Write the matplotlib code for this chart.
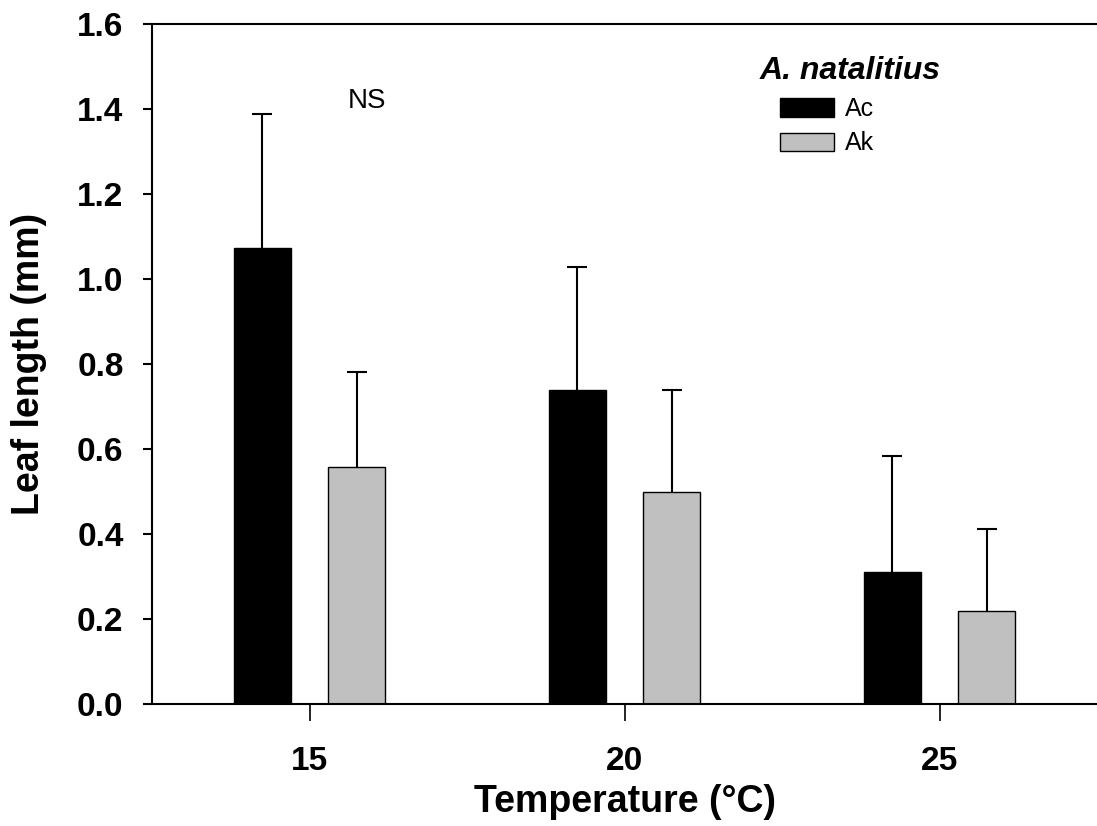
import matplotlib
matplotlib.use("Agg")
import matplotlib.pyplot as plt
from matplotlib.patches import Patch
import numpy as np

# leaf length by growth temperature, means with upper SE bars
temps = [15, 20, 25]
ac_mean = [1.074, 0.739, 0.311]
ac_err = [0.315, 0.290, 0.272]
ak_mean = [0.558, 0.498, 0.218]
ak_err = [0.224, 0.242, 0.194]

plt.rcParams['font.family'] = ['Liberation Sans', 'DejaVu Sans']

BAR_W = 0.9
OFFSET = 0.75
GREY = '#c0c0c0'

fig = plt.figure(figsize=(10.97, 8.26), dpi=100)
ax = fig.add_axes([152 / 1097, 122 / 826, 945 / 1097, 680 / 826])

x = np.array(temps, dtype=float)
# error bars sit behind the bars so only the upper half shows
err_kw = dict(fmt='none', ecolor='black', elinewidth=1.5, capsize=7,
              capthick=1.5, zorder=1)
ax.errorbar(x - OFFSET, ac_mean, yerr=ac_err, **err_kw)
ax.errorbar(x + OFFSET, ak_mean, yerr=ak_err, **err_kw)
ax.bar(x - OFFSET, ac_mean, BAR_W, color='black', edgecolor='black',
       linewidth=1, zorder=2)
ax.bar(x + OFFSET, ak_mean, BAR_W, color=GREY, edgecolor='black',
       linewidth=1, zorder=2)

ax.set_xlim(12.5, 27.5)
ax.set_ylim(0, 1.6)
ax.set_xticks(temps)
yt = np.arange(0, 1.61, 0.2)
ax.set_yticks(yt)
ax.set_yticklabels([f'{v:.1f}' for v in yt])

ax.spines['right'].set_visible(False)
for s in ['left', 'bottom', 'top']:
    ax.spines[s].set_linewidth(1.5)

ax.tick_params(axis='y', direction='out', length=6.5, width=1.5, pad=14,
               labelsize=24)
ax.tick_params(axis='x', direction='out', length=12, width=1.2, pad=18,
               labelsize=24)
for lab in ax.get_xticklabels() + ax.get_yticklabels():
    lab.set_fontweight('bold')

ax.set_xlabel('Temperature (°C)', fontsize=27, fontweight='bold')
ax.set_ylabel('Leaf length (mm)', fontsize=27, fontweight='bold')
ax.xaxis.set_label_coords(0.5, -0.117)
ax.yaxis.set_label_coords(-0.111, 0.5)

ax.text(15.91, 1.42, 'NS', fontsize=20, ha='center', va='center')

# legend: title as separate text, entries below it
ax.text(760 / 1097, 1 - 56 / 826, 'A. natalitius', transform=fig.transFigure,
        fontsize=23, fontweight='bold', fontstyle='italic', ha='left', va='top')
handles = [Patch(facecolor='black', edgecolor='black', linewidth=1),
           Patch(facecolor=GREY, edgecolor='black', linewidth=1)]
fig.legend(handles, ['Ac', 'Ak'], loc='upper left',
           bbox_to_anchor=(780 / 1097, 1 - 97 / 826), frameon=False,
           fontsize=18, handlelength=2.16, handleheight=0.76,
           handletextpad=0.45, labelspacing=0.42, borderpad=0,
           borderaxespad=0)

fig.savefig('out.png', dpi=100)
